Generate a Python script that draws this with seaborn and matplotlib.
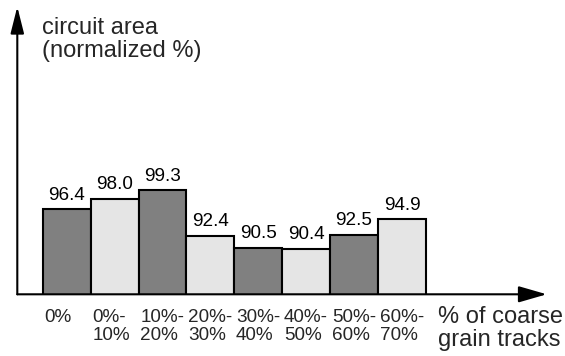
import matplotlib
matplotlib.use("Agg")
import matplotlib.pyplot as plt
import seaborn as sns

# Share of coarse grain tracks vs. normalized circuit area
categories = ["0%", "0%-\n10%", "10%-\n20%", "20%-\n30%", "30%-\n40%",
              "40%-\n50%", "50%-\n60%", "60%-\n70%"]
area_pct = [96.4, 98.0, 99.3, 92.4, 90.5, 90.4, 92.5, 94.9]
bar_colors = ["#808080", "#e5e5e5"] * 4
y_label = "circuit area\n(normalized %)"
x_label = "% of coarse\ngrain tracks"

sns.set_theme(style="white")
plt.rcParams["font.family"] = ["Liberation Sans", "DejaVu Sans"]

W, H, DPI = 565, 356, 100
fig = plt.figure(figsize=(W / DPI, H / DPI), dpi=DPI)
fig.patch.set_facecolor("white")

# axes box: from the y-axis line to the arrow tips (pixel geometry)
x0, x1 = 17.3, 546.7
y_base, y_top = 294.3, 6.7
ax = fig.add_axes([x0 / W, (H - y_base) / H, (x1 - x0) / W, (y_base - y_top) / H])
ax.set_facecolor("none")

sns.barplot(x=categories, y=area_pct, hue=categories, palette=bar_colors,
            width=1.0, saturation=1, edgecolor="black", linewidth=1.5,
            legend=False, ax=ax)

bar_px = 47.9
ax.set_xlim(-0.5 - (42.7 - x0) / bar_px, -0.5 + (x1 - 42.7) / bar_px)
y_min, px_per_unit = 83.46, 6.574
ax.set_ylim(y_min, y_min + (y_base - y_top) / px_per_unit)

for side in ax.spines.values():
    side.set_visible(False)
ax.set_xticks([])
ax.set_yticks([])
ax.set_xlabel("")
ax.set_ylabel("")

# value labels above each bar
for cont in ax.containers:
    ax.bar_label(cont, fmt="{:.1f}", padding=4, fontsize=13.6, color="black")

# category labels, left-aligned under each bar
for i, lab in enumerate(categories):
    ax.annotate(lab, xy=(i - 0.5, 0), xycoords=("data", "axes fraction"),
                xytext=(1.3, -10.5), textcoords="offset points",
                ha="left", va="top", fontsize=13.6, linespacing=1.07,
                annotation_clip=False)

# axis arrows
ax.annotate("", xy=(1, 0), xytext=(0, 0), xycoords="axes fraction",
            arrowprops=dict(arrowstyle="-|>,head_length=1.73,head_width=0.5",
                            mutation_scale=10, lw=1.5, color="black",
                            shrinkA=0, shrinkB=0), annotation_clip=False)
ax.annotate("", xy=(0, 1), xytext=(0, 0), xycoords="axes fraction",
            arrowprops=dict(arrowstyle="-|>,head_length=1.63,head_width=0.41",
                            mutation_scale=10, lw=1.5, color="black",
                            shrinkA=0, shrinkB=0), annotation_clip=False)

fig.text(41.7 / W, 1 - 17 / H, y_label, ha="left", va="top",
         fontsize=17, linespacing=1.08)
fig.text(438 / W, 1 - 306 / H, x_label, ha="left", va="top",
         fontsize=17, linespacing=1.03)

fig.savefig("out.png", dpi=DPI, facecolor="white")
